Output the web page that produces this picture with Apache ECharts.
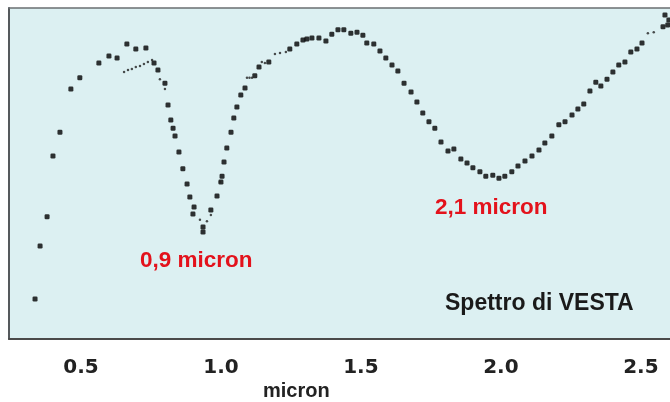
<!DOCTYPE html>
<html>
<head>
<meta charset="utf-8">
<script src="https://cdn.jsdelivr.net/npm/echarts@6/dist/echarts.min.js"></script>
<style>html,body{margin:0;padding:0;background:#fff}#c{width:670px;height:402px}</style>
</head>
<body>
<div id="c"></div>
<script>
// Wavelength (micron) and relative reflectance (arbitrary units) of the main measured points
var mainX = [0.336,0.354,0.379,0.400,0.425,0.464,0.496,0.564,0.600,0.629,0.664,0.696,0.732,0.761,0.775,0.800,0.811,0.821,0.829,0.836,0.850,0.864,0.879,0.889,0.904,0.900,0.936,0.936,0.964,0.986,1.000,1.004,1.011,1.021,1.036,1.046,1.057,1.071,1.086,1.121,1.136,1.171,1.246,1.271,1.293,1.307,1.325,1.350,1.375,1.396,1.418,1.439,1.464,1.486,1.507,1.521,1.546,1.568,1.589,1.611,1.632,1.654,1.679,1.700,1.721,1.743,1.764,1.786,1.811,1.832,1.857,1.879,1.900,1.925,1.946,1.971,1.993,2.014,2.039,2.061,2.086,2.111,2.136,2.157,2.182,2.207,2.229,2.254,2.275,2.296,2.318,2.339,2.357,2.379,2.400,2.421,2.443,2.464,2.486,2.504,2.579,2.586,2.596,2.600];
var mainY = [12.1,28.1,36.9,55.3,62.5,75.5,78.9,83.4,85.5,84.9,89.1,87.6,87.9,83.4,81.3,77.3,70.7,66.2,63.7,61.3,56.5,51.4,46.8,42.9,39.9,37.8,32.3,33.8,39.0,43.2,47.4,49.2,53.5,57.7,62.5,66.8,70.1,73.7,75.8,79.5,82.2,83.7,87.6,89.1,90.3,90.6,90.9,90.9,90.0,92.1,93.4,93.4,92.4,92.7,91.8,89.4,89.1,87.0,84.9,82.8,81.0,77.3,74.6,71.6,68.3,65.6,63.7,59.5,56.8,57.4,54.4,53.2,51.7,50.5,49.2,49.5,48.6,49.2,50.5,52.3,53.8,55.3,57.1,59.2,61.3,64.7,65.6,67.7,69.5,71.0,74.9,77.6,76.4,78.5,80.7,82.8,83.7,86.7,87.6,89.4,94.3,97.9,94.9,96.4];
// Finer-resolution secondary measurements (small dots)
var fineX = [0.654,0.668,0.682,0.696,0.711,0.725,0.739,0.754,0.782,0.800,0.925,0.950,0.964,0.996,1.093,1.102,1.111,1.146,1.157,1.193,1.211,1.232,2.525,2.546];
var fineY = [80.7,81.3,81.6,82.2,82.5,83.1,83.7,84.3,78.5,75.5,36.0,35.6,37.5,47.4,78.9,78.9,78.9,83.7,83.4,86.1,86.4,86.7,92.4,92.7];
var tickValues = [0.5,1.0,1.5,2.0,2.5];
var xMin = 0.243, xMax = 2.604;

function pairs(xs, ys){ return xs.map(function(x,i){ return [x, ys[i]]; }); }

var chart = echarts.init(document.getElementById('c'), null, {renderer:'canvas'});
chart.setOption({
  animation: false,
  backgroundColor: '#ffffff',
  grid: { left: 9, top: 8, right: 0, bottom: 63, show: true, backgroundColor: '#dcf0f2', borderWidth: 0 },
  xAxis: [{
    type: 'value', min: xMin, max: xMax,
    axisLine: { show: true, lineStyle: { color: '#4a4a4a', width: 2 } },
    axisTick: { show: false },
    splitLine: { show: false },
    axisLabel: {
      customValues: tickValues,
      formatter: function(v){ return v.toFixed(1); },
      fontFamily: 'DejaVu Sans', fontWeight: 'bold', fontSize: 20, color: '#222', margin: 19
    }
  }, {
    type: 'value', position: 'top', min: xMin, max: xMax,
    axisLine: { show: true, lineStyle: { color: '#6a6f72', width: 1.5 } },
    axisTick: { show: false }, axisLabel: { show: false }, splitLine: { show: false }
  }],
  yAxis: {
    type: 'value', min: 0, max: 100,
    axisLine: { show: true, lineStyle: { color: '#55595c', width: 2 } },
    axisTick: { show: false }, axisLabel: { show: false }, splitLine: { show: false }
  },
  series: [
    { type: 'scatter', data: pairs(mainX, mainY), symbol: 'roundRect', symbolSize: 5, itemStyle: { color: '#000' } },
    { type: 'scatter', data: pairs(fineX, fineY), symbol: 'circle', symbolSize: 2.5, itemStyle: { color: '#222' } }
  ],
  graphic: [
    { type: 'text', left: 140, top: 249, style: { text: '0,9 micron', fill: '#e3121c', font: 'bold 22.5px "Liberation Sans", Arial, sans-serif' } },
    { type: 'text', left: 435, top: 196, style: { text: '2,1 micron', fill: '#e3121c', font: 'bold 22.5px "Liberation Sans", Arial, sans-serif' } },
    { type: 'text', left: 445, top: 292, style: { text: 'Spettro di VESTA', fill: '#1a1a1a', font: 'bold 23px "Liberation Sans", Arial, sans-serif' } },
    { type: 'text', left: 263, top: 381, style: { text: 'micron', fill: '#222', font: 'bold 20px "Liberation Sans", Arial, sans-serif' } }
  ]
});
</script>
</body>
</html>
